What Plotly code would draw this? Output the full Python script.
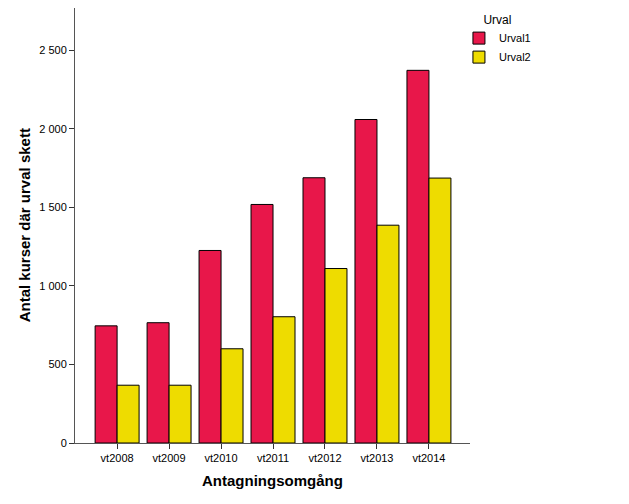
import plotly.graph_objects as go

categories = ["vt2008", "vt2009", "vt2010", "vt2011", "vt2012", "vt2013", "vt2014"]
urval1 = [746, 766, 1226, 1519, 1689, 2060, 2373]
urval2 = [368, 368, 600, 804, 1111, 1387, 1687]

fig = go.Figure()
fig.add_trace(go.Bar(x=categories, y=urval1, name="Urval1",
                     marker=dict(color="#E8174A", line=dict(color="black", width=1))))
fig.add_trace(go.Bar(x=categories, y=urval2, name="Urval2",
                     marker=dict(color="#EEDC00", line=dict(color="black", width=1))))

fig.update_layout(
    width=629, height=504,
    margin=dict(l=67, r=167, t=0, b=69, autoexpand=False),
    plot_bgcolor="white", paper_bgcolor="white",
    barmode="group", bargap=0.154, bargroupgap=0,
    separators=", ",
    font=dict(family="Liberation Sans, Arial, sans-serif", size=11, color="black"),
    showlegend=True,
    legend=dict(title=dict(text="Urval", side="top center", font=dict(size=12)),
                x=0.972, xanchor="left", y=1.0, yanchor="top",
                font=dict(size=11), itemwidth=30, tracegroupgap=0,
                bgcolor="rgba(0,0,0,0)"),
    annotations=[
        dict(text="<b>Antagningsomgång</b>", xref="paper", yref="paper",
             x=0.5, y=-0.087, xanchor="center", yanchor="middle",
             showarrow=False, font=dict(size=15)),
        dict(text="<b>Antal kurser där urval skett</b>", xref="paper", yref="paper",
             x=-0.127, y=0.5, xanchor="center", yanchor="middle", textangle=-90,
             showarrow=False, font=dict(size=15)),
    ],
)
fig.update_xaxes(
    type="category", range=[-0.81, 6.79], automargin=False,
    showline=True, linecolor="#555555", linewidth=1,
    ticks="outside", ticklen=5, tickcolor="#333333",
    showgrid=False,
)
fig.update_yaxes(
    range=[0, 2770], tickvals=[0, 500, 1000, 1500, 2000, 2500],
    tickformat=",d", automargin=False,
    showline=True, linecolor="#555555", linewidth=1,
    ticks="outside", ticklen=5, tickcolor="#333333",
    showgrid=False, zeroline=False,
)

fig.write_html("out.html")
